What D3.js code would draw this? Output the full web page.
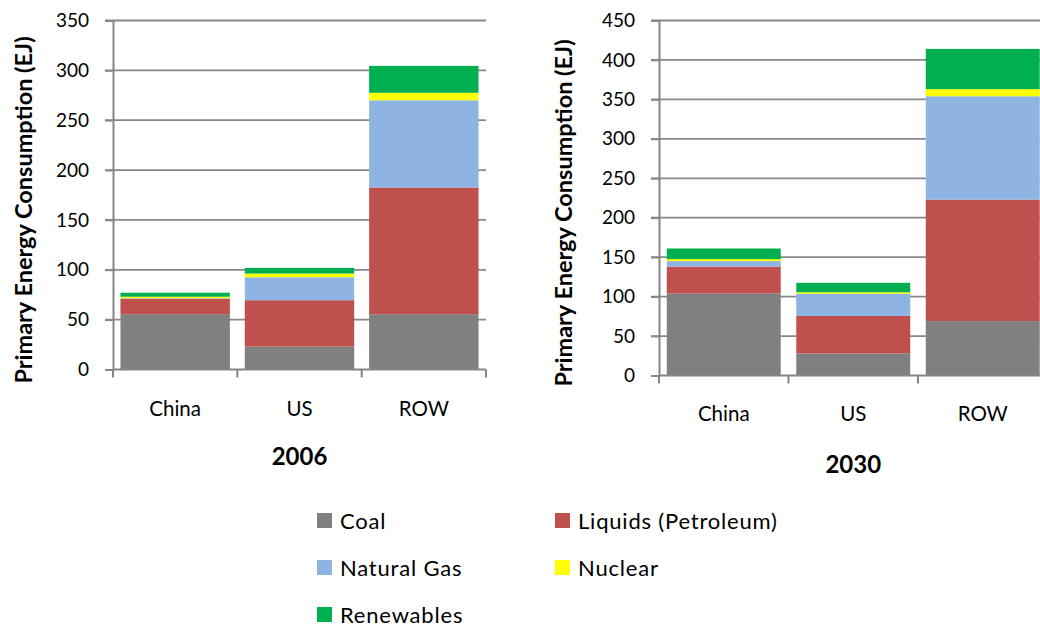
<!DOCTYPE html>
<html>
<head>
<meta charset="utf-8">
<script src="https://cdn.jsdelivr.net/npm/d3@7"></script>
<style>
  html, body { margin: 0; padding: 0; background: #fff; }
  svg { display: block; }
  text { font-family: Lato, "Open Sans", sans-serif; fill: #000; }
</style>
</head>
<body>
<svg id="chart" width="1040" height="628"></svg>
<script>
const categories = ["China", "US", "ROW"];
const seriesNames = ["Coal", "Liquids (Petroleum)", "Natural Gas", "Nuclear", "Renewables"];
const seriesColors = ["#808080", "#C0504D", "#8EB4E3", "#FFFF00", "#00B050"];

// 2006 (EJ)
const coal2006 = [55.5, 23, 55.5];
const liquids2006 = [15.5, 46.5, 127];
const gas2006 = [0.5, 23, 87.5];
const nuclear2006 = [1.5, 3.7, 7.5];
const renewables2006 = [4, 5.7, 27];

// 2030 (EJ)
const coal2030 = [104, 28, 69];
const liquids2030 = [34, 47.5, 154];
const gas2030 = [7, 28, 131];
const nuclear2030 = [2.5, 2, 9];
const renewables2030 = [13.5, 12, 51];

const ticks2006 = [0, 50, 100, 150, 200, 250, 300, 350];
const ticks2030 = [0, 50, 100, 150, 200, 250, 300, 350, 400, 450];

const yTitle = "Primary Energy Consumption (EJ)";

function buildRows(arrs) {
  return categories.map((c, i) => {
    const row = { category: c };
    seriesNames.forEach((s, j) => row[s] = arrs[j][i]);
    return row;
  });
}

const svg = d3.select("#chart");

function drawPanel(opt) {
  const g = svg.append("g");
  const x = d3.scaleBand().domain(categories)
    .range([opt.x0, opt.x1]).paddingInner(0.12).paddingOuter(0.06);
  const y = d3.scaleLinear().domain([0, opt.max]).range([opt.y0, opt.y1]);

  // gridlines
  g.append("g").selectAll("line").data(opt.ticks.filter(t => t > 0)).join("line")
    .attr("x1", opt.x0 - 8).attr("x2", opt.x1)
    .attr("y1", d => y(d)).attr("y2", d => y(d))
    .attr("stroke", "#888").attr("stroke-width", 1.8);

  const rows = buildRows(opt.data);
  const stacked = d3.stack().keys(seriesNames)(rows);
  g.append("g").selectAll("g").data(stacked).join("g")
    .attr("fill", (d, i) => seriesColors[i])
    .selectAll("rect").data(d => d).join("rect")
    .attr("x", d => x(d.data.category))
    .attr("width", x.bandwidth())
    .attr("y", d => y(d[1]))
    .attr("height", d => y(d[0]) - y(d[1]));

  // y axis
  const yAxis = d3.axisLeft(y).tickValues(opt.ticks).tickSize(8).tickPadding(16).tickFormat(d3.format("d"));
  const ya = g.append("g").attr("transform", `translate(${opt.x0},0)`).call(yAxis);
  ya.select(".domain").attr("stroke", "#868686").attr("stroke-width", 2);
  ya.selectAll(".tick line").attr("stroke", "#888").attr("stroke-width", 1.8);
  ya.selectAll(".tick text").attr("font-size", 19).attr("font-family", "Lato, sans-serif").attr("fill", "#000");

  // x axis line and ticks at band boundaries
  g.append("line").attr("x1", opt.x0).attr("x2", opt.x1)
    .attr("y1", opt.y0).attr("y2", opt.y0)
    .attr("stroke", "#868686").attr("stroke-width", 2);
  const bounds = d3.range(categories.length + 1).map(i => opt.x0 + i * (opt.x1 - opt.x0) / categories.length);
  g.append("g").selectAll("line").data(bounds).join("line")
    .attr("x1", d => d).attr("x2", d => d)
    .attr("y1", opt.y0).attr("y2", opt.y0 + 8)
    .attr("stroke", "#868686").attr("stroke-width", 2);

  g.append("g").selectAll("text").data(categories).join("text")
    .attr("x", d => x(d) + x.bandwidth() / 2)
    .attr("y", opt.catY)
    .attr("text-anchor", "middle")
    .attr("font-size", 20.5)
    .text(d => d);

  g.append("text")
    .attr("x", (opt.x0 + opt.x1) / 2).attr("y", opt.titleY)
    .attr("text-anchor", "middle").attr("font-size", 24).attr("font-weight", "bold")
    .text(opt.title);

  g.append("text")
    .attr("transform", `translate(${opt.ytX},${opt.ytY}) rotate(-90)`)
    .attr("text-anchor", "middle").attr("font-size", 23.5).attr("font-weight", "bold")
    .text(yTitle);
}

drawPanel({
  x0: 113, x1: 486, y0: 369.5, y1: 20.5, max: 350, ticks: ticks2006,
  data: [coal2006, liquids2006, gas2006, nuclear2006, renewables2006],
  catY: 416, title: "2006", titleY: 465, ytX: 32, ytY: 210
});
drawPanel({
  x0: 659, x1: 1047.5, y0: 375.5, y1: 20.5, max: 450, ticks: ticks2030,
  data: [coal2030, liquids2030, gas2030, nuclear2030, renewables2030],
  catY: 421, title: "2030", titleY: 473, ytX: 572, ytY: 213
});

// legend
const legendPos = [[317, 513], [555, 513], [317, 560], [555, 560], [317, 607]];
const lg = svg.append("g").selectAll("g").data(seriesNames).join("g")
  .attr("transform", (d, i) => `translate(${legendPos[i][0]},${legendPos[i][1]})`);
lg.append("rect").attr("width", 15).attr("height", 15).attr("fill", (d, i) => seriesColors[i]);
lg.append("text").attr("x", 23).attr("y", 16).attr("font-size", 22)
  .attr("letter-spacing", 0.8).text(d => d);
</script>
</body>
</html>
